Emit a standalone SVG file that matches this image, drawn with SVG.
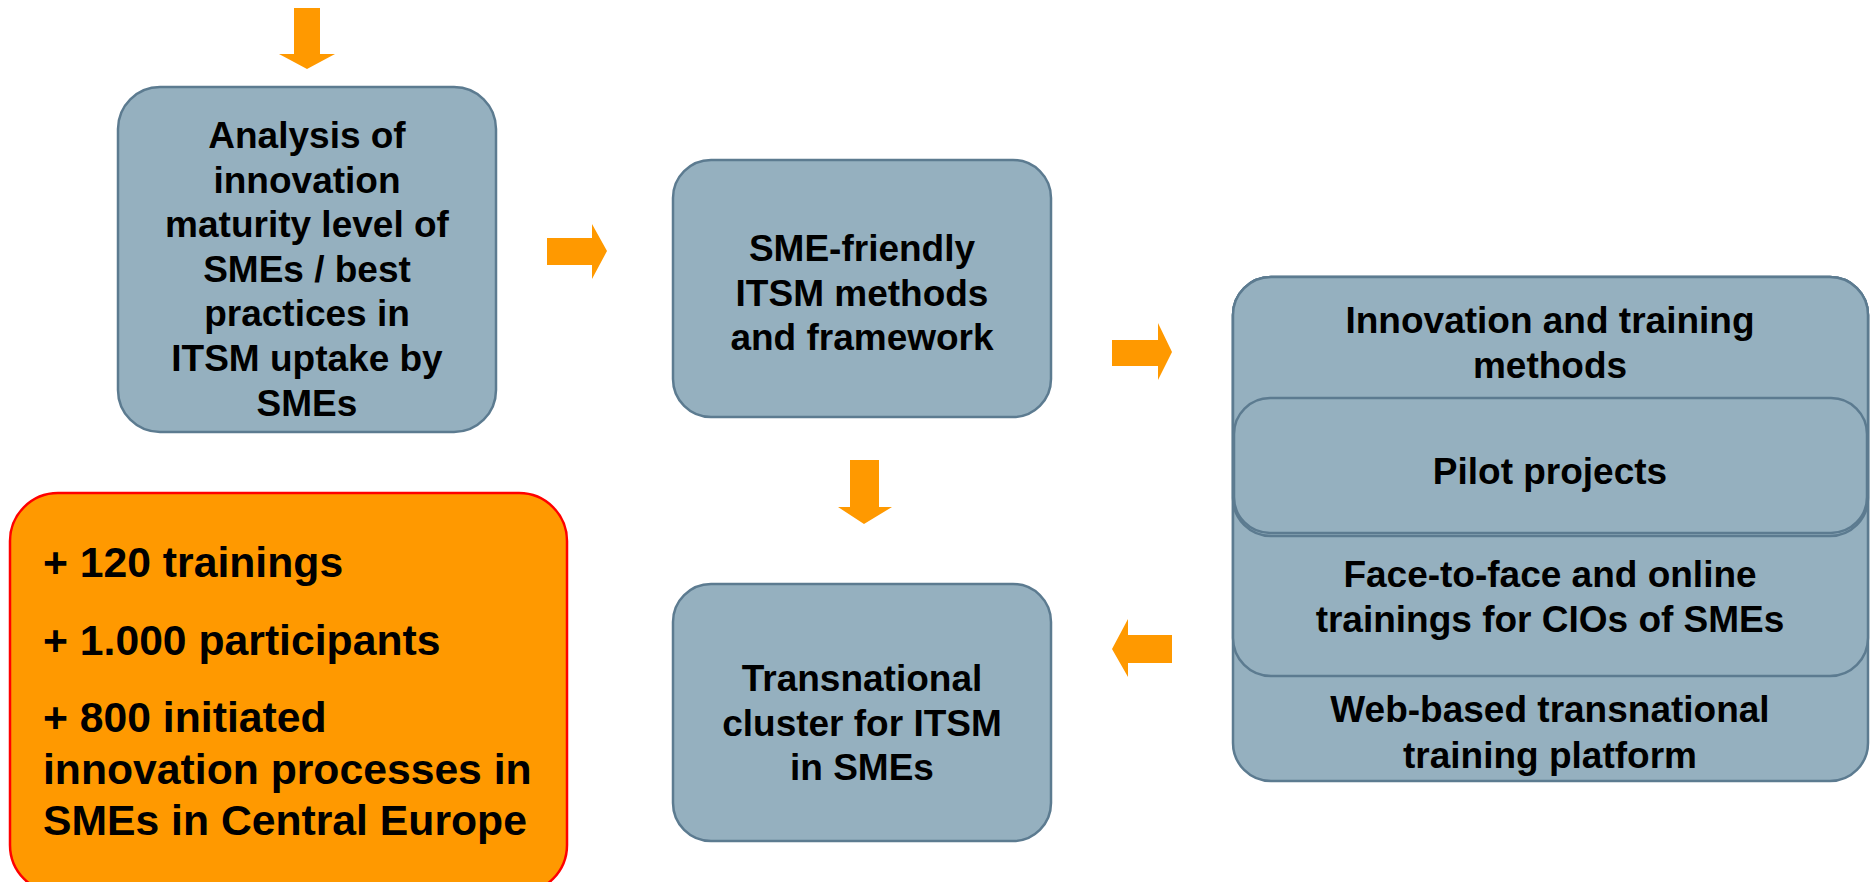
<svg xmlns="http://www.w3.org/2000/svg" width="1875" height="882" viewBox="0 0 1875 882">
<style>
.box{fill:#95B0BF;stroke:#5C7B90;stroke-width:2.5}
.obox{fill:#FF9900;stroke:#FF0000;stroke-width:2.5}
.arr{fill:#FF9900}
text{font-family:"Liberation Sans",Arial,sans-serif;font-weight:bold;fill:#000}
.c{font-size:37px;text-anchor:middle}
.o{font-size:42.7px}
</style>
<rect width="1875" height="882" fill="#fff"/>
<g id="connectors">
<polygon class="arr" points="294,8 320,8 320,54 335,54 307,69 279,54 294,54"/>
<polygon class="arr" points="547,238 592,238 592,224 607,251 592,279 592,265 547,265"/>
<polygon class="arr" points="1112,340 1158,340 1158,323 1172,352 1158,380 1158,366 1112,366"/>
<polygon class="arr" points="850,460 879,460 879,507 892,507 864,524 838,507 850,507"/>
<polygon class="arr" points="1172,635 1128,635 1128,619 1112,649 1128,677 1128,663 1172,663"/>
</g>
<g id="analysis">
<rect class="box" x="118" y="87" width="378" height="345" rx="42"/>
<text class="c" x="307" y="148">Analysis of</text>
<text class="c" x="307" y="192.6">innovation</text>
<text class="c" x="307" y="237.2">maturity level of</text>
<text class="c" x="307" y="281.8">SMEs / best</text>
<text class="c" x="307" y="326.4">practices in</text>
<text class="c" x="307" y="371">ITSM uptake by</text>
<text class="c" x="307" y="415.6">SMEs</text>
</g>
<g id="sme-friendly">
<rect class="box" x="673" y="160" width="378" height="257" rx="38"/>
<text class="c" x="862" y="261">SME-friendly</text>
<text class="c" x="862" y="305.6">ITSM methods</text>
<text class="c" x="862" y="350.2">and framework</text>
</g>
<g id="transnational">
<rect class="box" x="673" y="584" width="378" height="257" rx="38"/>
<text class="c" x="862" y="691">Transnational</text>
<text class="c" x="862" y="735.6">cluster for ITSM</text>
<text class="c" x="862" y="780.2">in SMEs</text>
</g>
<g id="web-based">
<rect class="box" x="1233" y="277" width="635" height="504" rx="38"/>
<text class="c" x="1550" y="722">Web-based transnational</text>
<text class="c" x="1550" y="768">training platform</text>
</g>
<g id="face-to-face">
<rect class="box" x="1233" y="277" width="635" height="399" rx="38"/>
<text class="c" x="1550" y="587">Face-to-face and online</text>
<text class="c" x="1550" y="632">trainings for CIOs of SMEs</text>
</g>
<g id="innovation">
<rect class="box" x="1233" y="277" width="635" height="259" rx="38"/>
<text class="c" x="1550" y="333">Innovation and training</text>
<text class="c" x="1550" y="378">methods</text>
</g>
<g id="pilot">
<rect class="box" x="1234" y="398" width="633" height="135" rx="36"/>
<text class="c" x="1550" y="484">Pilot projects</text>
</g>
<g id="results">
<rect class="obox" x="10" y="493" width="557" height="400" rx="48"/>
<text class="o" x="43" y="577">+ 120 trainings</text>
<text class="o" x="43" y="655">+ 1.000 participants</text>
<text class="o" x="43" y="732">+ 800 initiated</text>
<text class="o" x="43" y="784">innovation processes in</text>
<text class="o" x="43" y="835">SMEs in Central Europe</text>
</g>
</svg>
